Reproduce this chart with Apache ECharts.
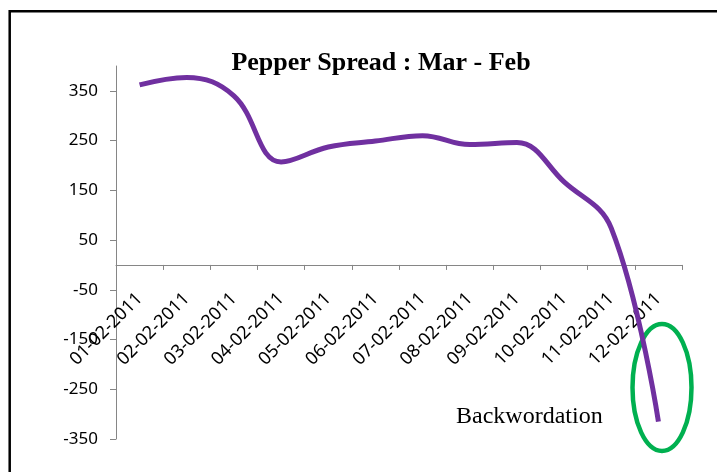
<!DOCTYPE html>
<html>
<head>
<meta charset="utf-8">
<script src="https://cdn.jsdelivr.net/npm/echarts@6/dist/echarts.min.js"></script>
<style>
  html, body { margin: 0; padding: 0; background: #fff; }
  #main { width: 717px; height: 472px; }
</style>
</head>
<body>
<div id="main"></div>
<script>
var dates = ['01-02-2011', '02-02-2011', '03-02-2011', '04-02-2011', '05-02-2011', '06-02-2011',
             '07-02-2011', '08-02-2011', '09-02-2011', '10-02-2011', '11-02-2011', '12-02-2011'];
var spread = [362, 377, 340, 207, 237, 249, 260, 242, 246, 167, 74, -315];
var yTicks = [-350, -250, -150, -50, 50, 150, 250, 350];
var yMin = -350, yMax = 400;

var gridTop = 66, gridBottom = 33, chartH = 472;
// move the category axis up to the zero line (labels follow it, as in Excel)
var zeroOffset = -(0 - yMin) / (yMax - yMin) * (chartH - gridTop - gridBottom);

var myChart = echarts.init(document.getElementById('main'));
var option = {
    backgroundColor: '#fff',
    animation: false,
    title: {
        text: 'Pepper Spread : Mar - Feb',
        left: 376,
        top: 45,
        textAlign: 'center',
        textStyle: {
            fontFamily: 'Liberation Serif',
            fontWeight: 'bold',
            fontSize: 26,
            color: '#000'
        }
    },
    grid: { left: 116, right: 35, top: gridTop, bottom: gridBottom, outerBoundsMode: 'none', containLabel: false },
    xAxis: {
        type: 'category',
        data: dates,
        boundaryGap: true,
        offset: zeroOffset,
        axisLine: { onZero: false, lineStyle: { color: '#868686', width: 1 } },
        axisTick: { show: true, inside: false, length: 5, lineStyle: { color: '#868686' } },
        axisLabel: {
            interval: 0,
            rotate: 45,
            margin: 31,
            color: '#000',
            fontFamily: 'Noto Sans',
            fontSize: 18
        },
        splitLine: { show: false }
    },
    yAxis: {
        type: 'value',
        min: yMin,
        max: yMax,
        interval: 100,
        axisLine: { show: true, lineStyle: { color: '#868686', width: 1 } },
        axisTick: { show: true, length: 6, customValues: yTicks, lineStyle: { color: '#868686' } },
        axisLabel: {
            customValues: yTicks,
            margin: 18,
            color: '#000',
            fontFamily: 'Noto Sans',
            fontSize: 17
        },
        splitLine: { show: false }
    },
    series: [{
        name: 'Spread',
        type: 'line',
        data: spread,
        smooth: 0.4,
        symbol: 'none',
        lineStyle: { color: '#7030a0', width: 5 }
    }],
    graphic: [
        {
            type: 'polyline',
            shape: { points: [[9.7, 472], [9.7, 11.3], [717, 11.3]] },
            style: { stroke: '#000', lineWidth: 2.5, fill: null }
        },
        {
            type: 'ellipse',
            shape: { cx: 662, cy: 387.5, rx: 29.5, ry: 63.5 },
            style: { stroke: '#00b050', lineWidth: 4.5, fill: null }
        },
        {
            type: 'text',
            x: 456,
            y: 417,
            style: {
                text: 'Backwordation',
                fill: '#000',
                font: '24px "Liberation Serif"',
                verticalAlign: 'middle',
                align: 'left'
            }
        }
    ]
};
myChart.setOption(option);
</script>
</body>
</html>
